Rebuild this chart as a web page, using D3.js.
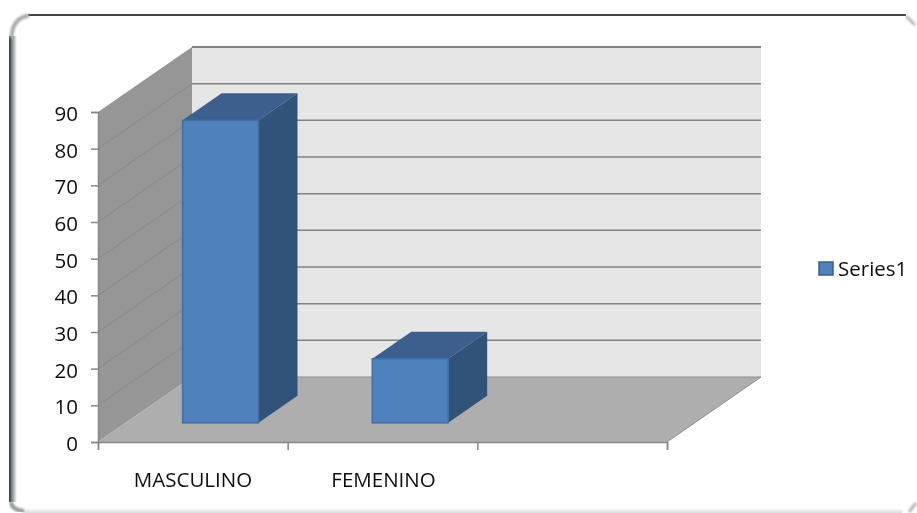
<!DOCTYPE html>
<html>
<head>
<meta charset="utf-8">
<script src="https://cdn.jsdelivr.net/npm/d3@7"></script>
<style>
    html, body { margin: 0; padding: 0; background: #fff; }
    svg { display: block; }
    text { font-family: "Open Sans", "Noto Sans", sans-serif; fill: #111; }
</style>
</head>
<body>
<svg id="chart"></svg>
<script>
const categories = ['MASCULINO', 'FEMENINO', ''];
const values = [82.5, 17.5];
const yTicks = [0, 10, 20, 30, 40, 50, 60, 70, 80, 90];
const seriesName = 'Series1';

const width = 917, height = 513;
const svg = d3.select('#chart').attr('width', width).attr('height', height);

const defs = svg.append('defs');
defs.append('filter').attr('id', 'soft')
    .append('feGaussianBlur').attr('stdDeviation', 0.45);
defs.append('filter').attr('id', 'softer')
    .append('feGaussianBlur').attr('stdDeviation', 0.8);

const leftShade = defs.append('linearGradient').attr('id', 'leftShade');
leftShade.append('stop').attr('offset', '0%').attr('stop-color', '#2f3436');
leftShade.append('stop').attr('offset', '45%').attr('stop-color', '#8f9899');
leftShade.append('stop').attr('offset', '100%').attr('stop-color', '#ffffff');

const bottomShade = defs.append('linearGradient').attr('id', 'bottomShade')
    .attr('x1', 0).attr('x2', 0).attr('y1', 0).attr('y2', 1);
bottomShade.append('stop').attr('offset', '0%').attr('stop-color', '#ffffff');
bottomShade.append('stop').attr('offset', '100%').attr('stop-color', '#d8dcdc');

// chart frame
const frame = svg.append('g');
frame.append('rect').attr('x', 9).attr('y', 36).attr('width', 8).attr('height', 466)
    .attr('fill', 'url(#leftShade)');
frame.append('rect').attr('x', 22).attr('y', 508).attr('width', 880).attr('height', 5)
    .attr('fill', 'url(#bottomShade)');
frame.append('line').attr('x1', 28).attr('x2', 906).attr('y1', 15).attr('y2', 15)
    .attr('stroke', '#444').attr('stroke-width', 2);
frame.append('path')
    .attr('d', 'M 11.5 38 Q 12 18 29 15.5')
    .attr('fill', 'none').attr('stroke', '#a4acac').attr('stroke-width', 4)
    .attr('filter', 'url(#softer)');
frame.append('path')
    .attr('d', 'M 11 502 Q 12 510 24 511')
    .attr('fill', 'none').attr('stroke', '#8f9899').attr('stroke-width', 4)
    .attr('filter', 'url(#softer)');
frame.append('path')
    .attr('d', 'M 906 16 L 915 25 M 916 503 L 909 512')
    .attr('fill', 'none').attr('stroke', '#b4b8b8').attr('stroke-width', 3)
    .attr('filter', 'url(#softer)');

const plot = svg.append('g').attr('filter', 'url(#soft)');

const x = d3.scaleBand().domain(categories).range([98, 667]).padding(0);
const y = d3.scaleLinear().domain([0, 90]).range([442, 112]);
// depth of the 3d box, 0 = front edge, 1 = back wall
const depthX = d3.scaleLinear().domain([0, 1]).range([0, 94]);
const depthY = d3.scaleLinear().domain([0, 1]).range([0, -65]);

const poly = pts => d3.line()(pts) + 'Z';
const x0 = x.range()[0], x1 = x.range()[1];
const yBase = y(0), yTop = y(90);
const dx = depthX(1), dy = depthY(1);

// walls and floor
plot.append('path').attr('fill', '#e6e6e6')
    .attr('d', poly([[x0 + dx, yTop + dy], [x1 + dx, yTop + dy], [x1 + dx, yBase + dy], [x0 + dx, yBase + dy]]));
plot.append('path').attr('fill', '#969696')
    .attr('d', poly([[x0, yTop], [x0 + dx, yTop + dy], [x0 + dx, yBase + dy], [x0, yBase]]));
plot.append('path').attr('fill', '#aeaeae')
    .attr('d', poly([[x0, yBase], [x0 + dx, yBase + dy], [x1 + dx, yBase + dy], [x1, yBase]]));

// gridlines
plot.append('g').selectAll('line').data(yTicks.slice(1)).join('line')
    .attr('x1', x0 + dx).attr('x2', x1 + dx)
    .attr('y1', d => y(d) + dy).attr('y2', d => y(d) + dy)
    .attr('stroke', '#828282').attr('stroke-width', d => d === 90 ? 2.2 : 1.5);
plot.append('g').selectAll('line').data(yTicks.slice(1, -1)).join('line')
    .attr('x1', x0).attr('x2', x0 + dx)
    .attr('y1', d => y(d)).attr('y2', d => y(d) + dy)
    .attr('stroke', '#888888').attr('stroke-width', 1);
plot.append('line')
    .attr('x1', x0 + dx).attr('x2', x1 + dx)
    .attr('y1', yBase + dy).attr('y2', yBase + dy)
    .attr('stroke', '#8e8e8e').attr('stroke-width', 1);
plot.append('line')
    .attr('x1', x1).attr('x2', x1 + dx)
    .attr('y1', yBase).attr('y2', yBase + dy)
    .attr('stroke', '#8e8e8e').attr('stroke-width', 1);

// bars
const barFront = 0.295, barBack = 0.71, barShare = 0.4;
const bars = plot.append('g').selectAll('g').data(values).join('g')
    .attr('transform', `translate(${depthX(barFront)}, ${depthY(barFront)})`);
const barW = x.bandwidth() * barShare;
const barX = (d, i) => x(categories[i]) + (x.bandwidth() - barW) / 2;
const bdx = depthX(barBack - barFront), bdy = depthY(barBack - barFront);

bars.append('path').attr('fill', '#3c5f8d')
    .attr('d', (d, i) => {
        const l = barX(d, i), t = y(d);
        return poly([[l, t], [l + bdx, t + bdy], [l + barW + bdx, t + bdy], [l + barW, t]]);
    });
bars.append('path').attr('fill', '#325379')
    .attr('d', (d, i) => {
        const r = barX(d, i) + barW, t = y(d);
        return poly([[r, t], [r + bdx, t + bdy], [r + bdx, yBase + bdy], [r, yBase]]);
    });
bars.append('rect')
    .attr('x', barX)
    .attr('y', d => y(d))
    .attr('width', barW)
    .attr('height', d => yBase - y(d))
    .attr('fill', '#4f81bd')
    .attr('stroke', '#3f6ea6')
    .attr('stroke-width', 1.5);

// axes
const yAxis = d3.axisLeft(y).tickValues(yTicks).tickSize(7).tickPadding(13);
const yAxisG = plot.append('g').attr('transform', `translate(${x0}, 0)`).call(yAxis);

const xAxis = d3.axisBottom(d3.scaleLinear().domain([0, 3]).range([x0, x1]))
    .ticks(3).tickSize(8).tickFormat('');
const xAxisG = plot.append('g').attr('transform', `translate(0, ${yBase})`).call(xAxis);

[yAxisG, xAxisG].forEach(g => {
    g.selectAll('path.domain').attr('stroke', '#868686').attr('stroke-width', 1.5);
    g.selectAll('line').attr('stroke', '#868686').attr('stroke-width', 1.5);
});
yAxisG.selectAll('text')
    .style('font-size', '20.5px').attr('dy', '0.42em')
    .style('fill', '#111');

// category labels sit left of their tick intervals, as in the picture
const labelX = d3.scaleOrdinal().domain(categories).range([193, 383.5]);
plot.append('g').selectAll('text').data(categories.slice(0, 2)).join('text')
    .attr('x', d => labelX(d))
    .attr('y', 487)
    .attr('text-anchor', 'middle')
    .style('font-size', '20.5px')
    .text(d => d);

// legend
const legend = plot.append('g').attr('transform', 'translate(819, 262)');
legend.append('rect').attr('width', 14).attr('height', 13)
    .attr('fill', '#4f81bd').attr('stroke', '#385d8a').attr('stroke-width', 1.5);
legend.append('text').attr('x', 19).attr('y', 14)
    .style('font-size', '20.5px')
    .text(seriesName);
</script>
</body>
</html>
